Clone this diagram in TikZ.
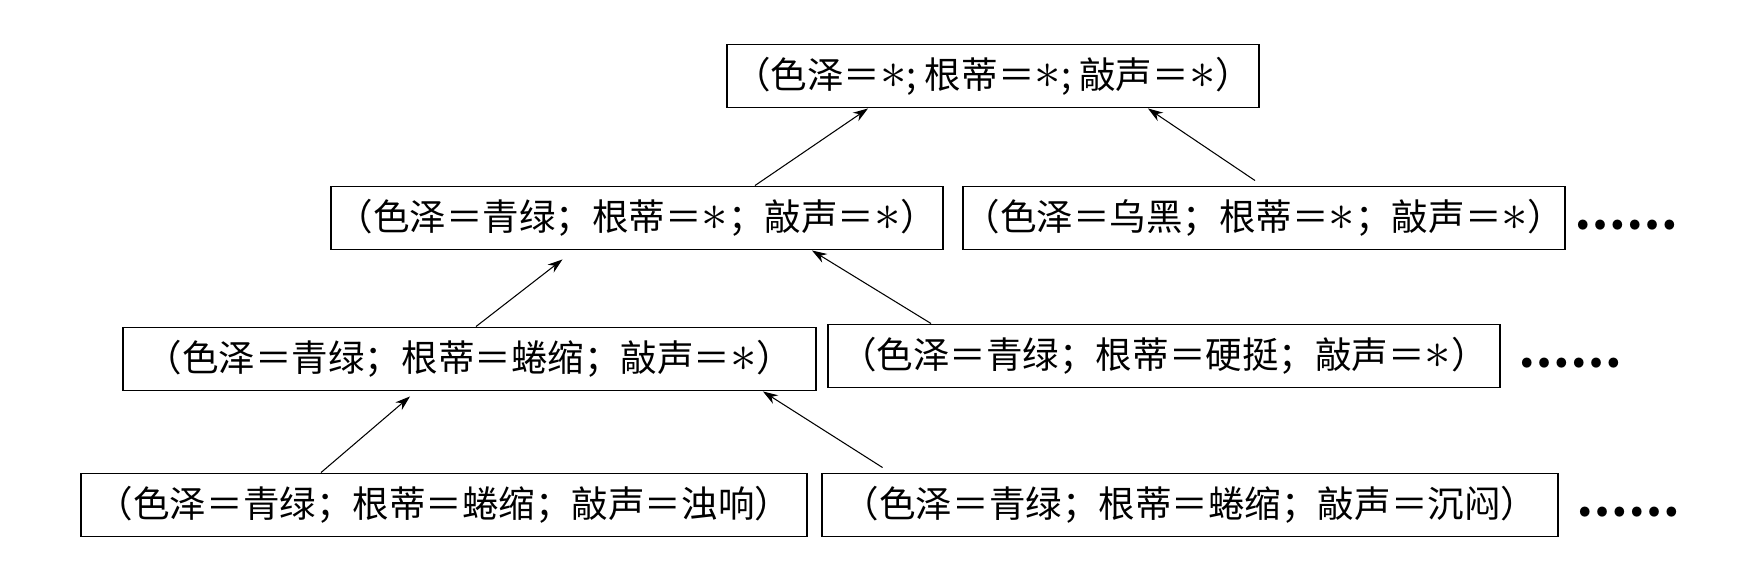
\documentclass[tikz,border=0pt]{standalone}
\usepackage{fontspec}
\setmainfont{Noto Sans CJK SC}
\usetikzlibrary{arrows.meta}
\newcommand{\anyval}{\scalebox{1.45}{$\ast$}}

\begin{document}
\begin{tikzpicture}[x=0.02cm, y=-0.02cm, font=\fontsize{20.8}{24}\selectfont,
  hyp/.style={draw, line width=1.1pt, inner xsep=0pt, align=center, minimum height=1.26cm},
  more/.style={inner sep=0pt, font=\fontsize{20.8}{24}\selectfont\bfseries},
  ar/.style={-{Stealth[length=3mm, width=2mm]}, line width=0.6pt}]

\useasboundingbox (0,0) rectangle (1758,570);

\node[hyp, minimum width=10.66cm] at (993,76) (all) {（色泽＝\anyval; 根蒂＝\anyval; 敲声＝\anyval）};

\node[hyp, minimum width=12.24cm] at (637,218) (qinglv) {（色泽＝青绿；根蒂＝\anyval；敲声＝\anyval）};
\node[hyp, minimum width=12.06cm] at (1264,218) (wuhei) {（色泽＝乌黑；根蒂＝\anyval；敲声＝\anyval）};
\node[more] at (1626,225) (more1) {\scalebox{1.25}{……}};

\node[hyp, minimum width=13.86cm] at (469.5,359) (quansuo) {（色泽＝青绿；根蒂＝蜷缩；敲声＝\anyval）};
\node[hyp, minimum width=13.46cm] at (1164,356) (yingting) {（色泽＝青绿；根蒂＝硬挺；敲声＝\anyval）};
\node[more] at (1570,363) (more2) {\scalebox{1.25}{……}};

\node[hyp, minimum width=14.52cm] at (444,505) (zhuoxiang) {（色泽＝青绿；根蒂＝蜷缩；敲声＝浊响）};
\node[hyp, minimum width=14.74cm] at (1190,505) (chenmen) {（色泽＝青绿；根蒂＝蜷缩；敲声＝沉闷）};
\node[more] at (1628,512) (more3) {\scalebox{1.25}{……}};

\draw[ar] ([xshift=2.36cm]qinglv.north) -- ([xshift=-2.5cm]all.south);
\draw[ar] ([xshift=-0.18cm, yshift=0.1cm]wuhei.north) -- ([xshift=3.1cm]all.south);
\draw[ar] ([xshift=0.13cm]quansuo.north) -- ([xshift=-1.49cm, yshift=-0.18cm]qinglv.south);
\draw[ar] ([xshift=-4.66cm]yingting.north) -- ([xshift=3.5cm]qinglv.south);
\draw[ar] ([xshift=-2.46cm]zhuoxiang.north) -- ([xshift=-1.19cm, yshift=-0.1cm]quansuo.south);
\draw[ar] ([xshift=-6.15cm, yshift=0.1cm]chenmen.north) -- ([xshift=5.87cm]quansuo.south);
\end{tikzpicture}
\end{document}
